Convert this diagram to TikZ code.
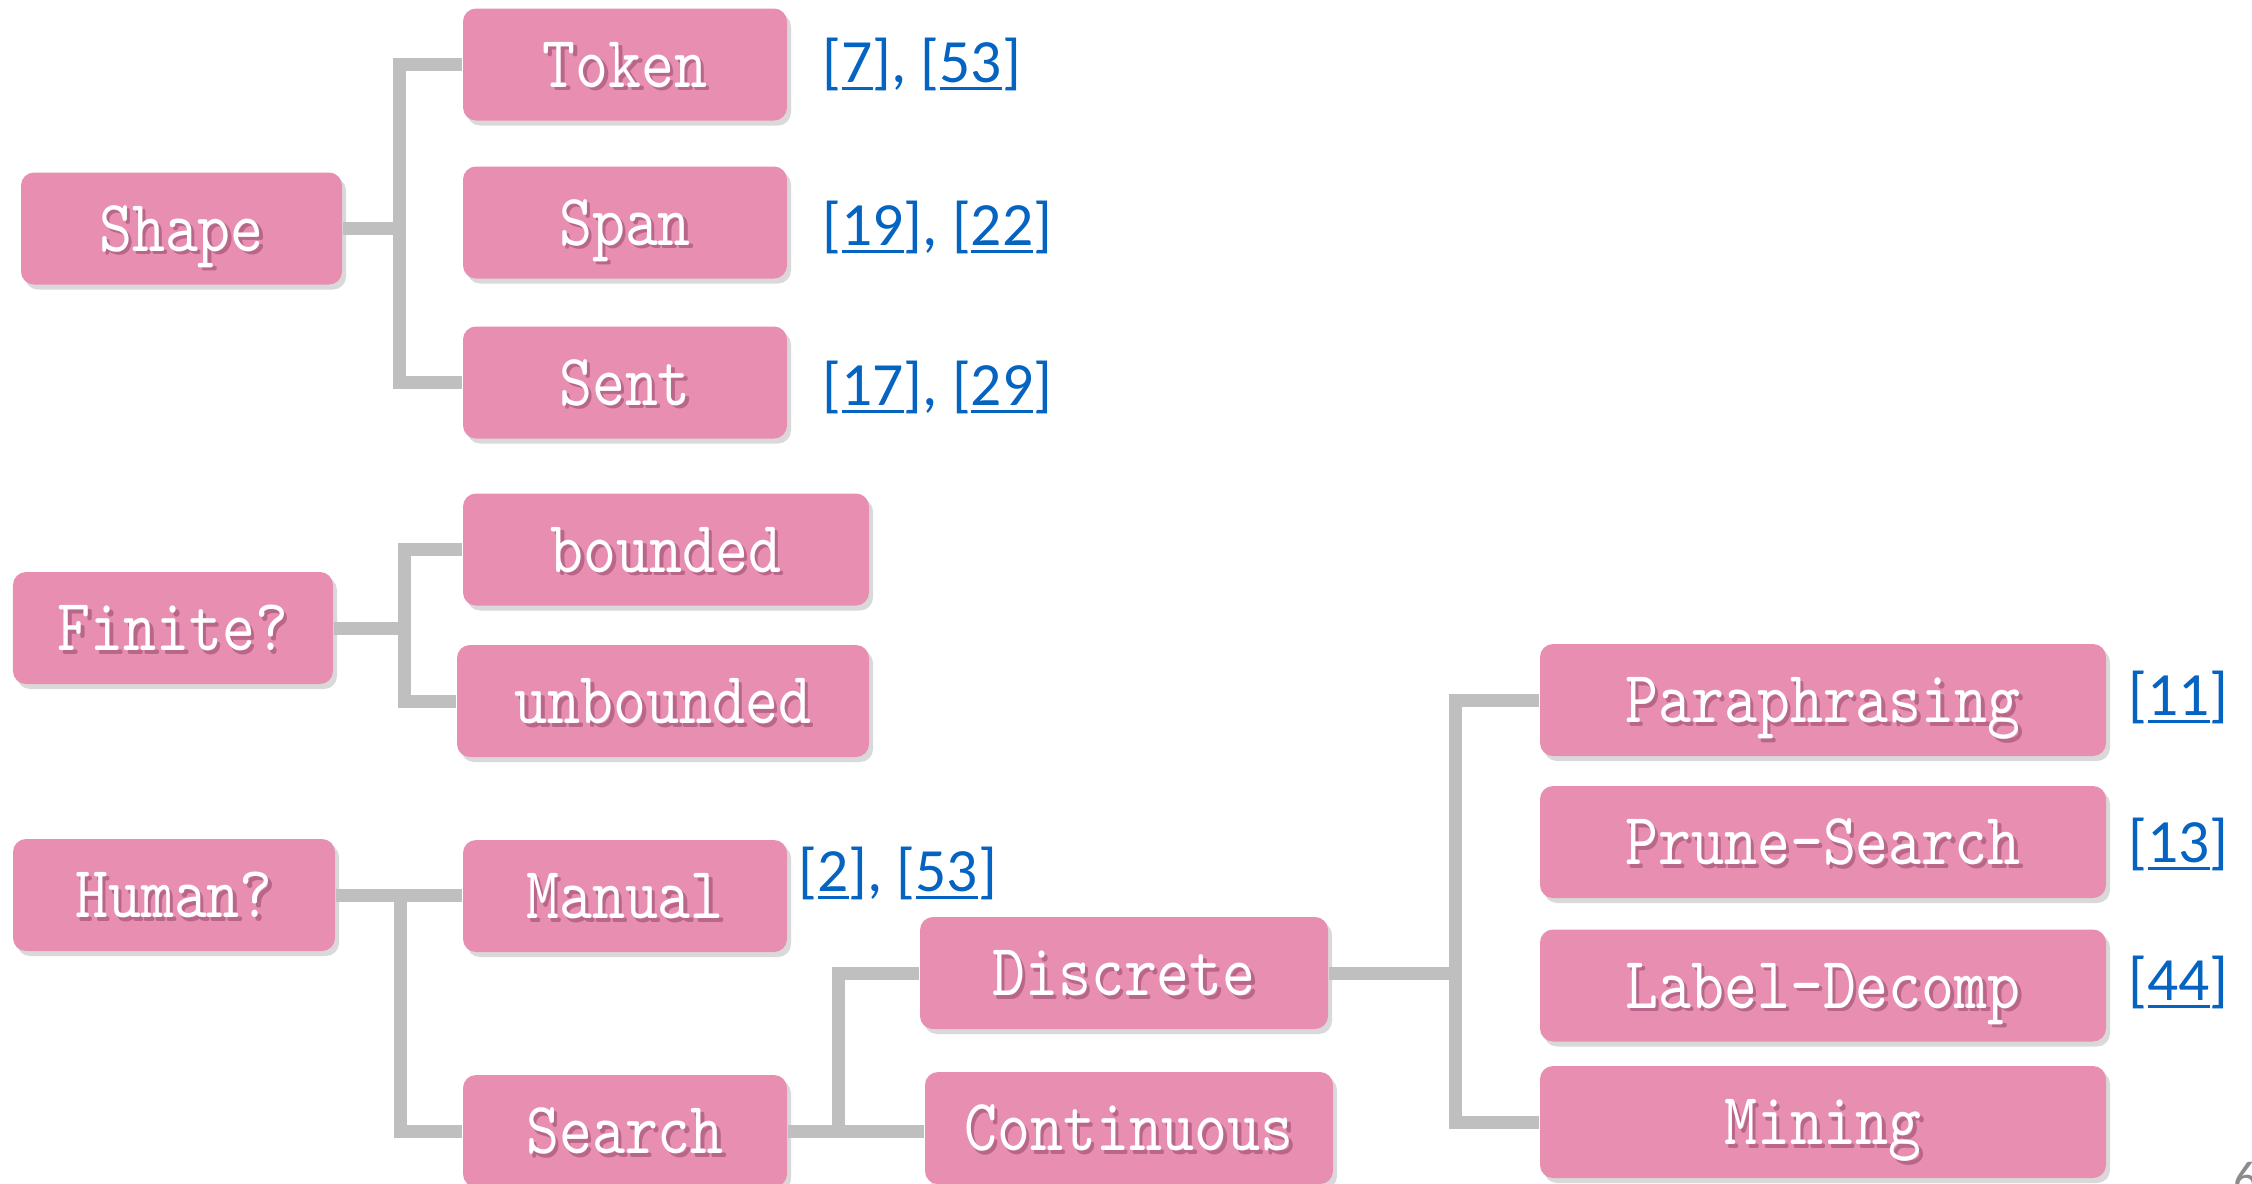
\documentclass[tikz,border=0pt]{standalone}
\usepackage{fontspec}
\usepackage{xcolor}
\usepackage{tikz}
\definecolor{trPink}{HTML}{E88EB0}
\definecolor{trPinkShade}{HTML}{B8668A}
\definecolor{trGrey}{HTML}{BFBFBF}
\definecolor{trLink}{HTML}{0563C1}
\definecolor{trMuted}{HTML}{8C8C8C}
\newfontfamily\boxfont{lmmono10-regular.otf}[FakeStretch=0.85]
\newfontfamily\citefont{Carlito}
\usetikzlibrary{shadows}
\newcommand\boxlbl[1]{\makebox[0pt][l]{\hspace{0.035cm}\raisebox{-0.035cm}{\textcolor{trPinkShade}{#1}}}#1}
\newcommand\refnum[1]{\setbox0\hbox{#1}\rlap{\rule[-2.3pt]{\wd0}{0.8pt}}\box0}

\begin{document}
\begin{tikzpicture}[x=1cm,y=1cm, every node/.style={inner sep=0pt},
  box/.style={rounded corners=0.13cm, fill=trPink, minimum height=1.12cm, text=white,
    font=\boxfont\fontsize{21}{21}\selectfont, text height=12.8pt, text depth=0pt,
    drop shadow={shadow xshift=0.04cm, shadow yshift=-0.05cm, fill=black, opacity=0.15}},
  cite/.style={anchor=base west, text=trLink, font=\citefont\fontsize{17.5}{17.5}\selectfont},
  branch/.style={draw=trGrey, line width=0.13cm}]
  \useasboundingbox (0,0) rectangle (22.52,-11.83);
  \node[box, minimum width=3.21cm] (shape) at (1.815,-2.285) {\boxlbl{Shape}};
  \foreach \name/\y/\txt in {token/0.645/Token,span/2.225/Span,sent/3.825/Sent} {
    \node[box, minimum width=3.24cm] (\name) at (6.25,-\y) {\boxlbl{\txt}};
  }
  \node[cite] (cite-token) at (8.22,-0.82) {[\refnum{7}], [\refnum{53}]};
  \node[cite] (cite-span) at (8.22,-2.45) {[\refnum{19}], [\refnum{22}]};
  \node[cite] (cite-sent) at (8.22,-4.05) {[\refnum{17}], [\refnum{29}]};

  \node[box, minimum width=3.20cm] (finite) at (1.73,-6.28) {\boxlbl{Finite?}};
  \node[box, minimum width=4.06cm] (bounded) at (6.66,-5.495) {\boxlbl{bounded}};
  \node[box, minimum width=4.12cm] (unbounded) at (6.63,-7.01) {\boxlbl{unbounded}};

  \node[box, minimum width=3.22cm] (human) at (1.74,-8.95) {\boxlbl{Human?}};
  \node[box, minimum width=3.24cm] (manual) at (6.25,-8.96) {\boxlbl{Manual}};
  \node[box, minimum width=3.24cm] (search) at (6.25,-11.31) {\boxlbl{Search}};
  \node[cite] (cite-manual) at (7.98,-8.91) {[\refnum{2}], [\refnum{53}]};
  \node[box, minimum width=4.08cm] (discrete) at (11.24,-9.73) {\boxlbl{Discrete}};
  \node[box, minimum width=4.08cm] (continuous) at (11.29,-11.28) {\boxlbl{Continuous}};
  \foreach \name/\y/\txt in {paraphrasing/7.00/Paraphrasing,prune/8.42/Prune-Search,decomp/9.855/Label-Decomp,mining/11.22/Mining} {
    \node[box, minimum width=5.66cm] (\name) at (18.23,-\y) {\boxlbl{\txt}};
  }
  \foreach \name/\y/\num in {paraphrasing/7.15/11,prune/8.62/13,decomp/10.0/44} {
    \node[cite] (cite-\name) at (21.28,-\y) {[\refnum{\num}]};
  }
  \node[anchor=north west, text=trMuted, font=\citefont\fontsize{14}{14}\selectfont] (pagenum) at (22.33,-11.62) {6};

  \coordinate (shapetrunk) at (3.99,0);
  \coordinate (finitetrunk) at (4.04,0);
  \coordinate (humantrunk) at (4.00,0);
  \coordinate (searchtrunk) at (8.38,0);
  \coordinate (disctrunk) at (14.55,0);
  \draw[branch] (shape.east) -- (shape.east -| shapetrunk);
  \draw[branch] (token.west) -- (token.west -| shapetrunk) -- (sent.west -| shapetrunk) -- (sent.west);
  \draw[branch] (finite.east) -- (finite.east -| finitetrunk);
  \draw[branch] (bounded.west) -- (bounded.west -| finitetrunk) -- (unbounded.west -| finitetrunk) -- (unbounded.west);
  \draw[branch] (human.east) -- (human.east -| manual.west);
  \draw[branch] (human.east -| humantrunk) -- (search.west -| humantrunk) -- (search.west);
  \draw[branch] (search.east) -- (search.east -| continuous.west);
  \draw[branch] (search.east -| searchtrunk) -- (discrete.west -| searchtrunk) -- (discrete.west);
  \draw[branch] (discrete.east) -- (discrete.east -| disctrunk);
  \draw[branch] (paraphrasing.west) -- (paraphrasing.west -| disctrunk) -- (mining.west -| disctrunk) -- (mining.west);
\end{tikzpicture}
\end{document}
